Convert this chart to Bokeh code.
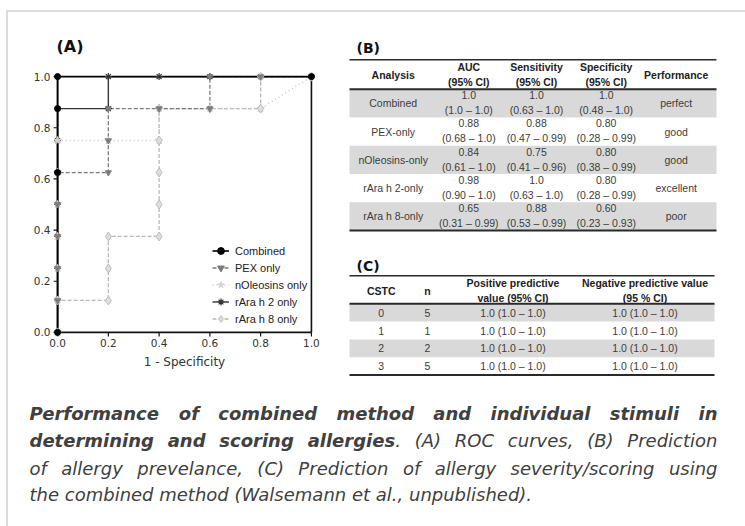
from bokeh.plotting import figure
from bokeh.models import (Range1d, FixedTicker, PrintfTickFormatter, Legend,
                          LegendItem, Spacer)
from bokeh.layouts import row, column
from bokeh.embed import file_html
from bokeh.resources import INLINE
from bokeh.core.properties import value

# ------------------------------------------------------------------ data
tick_vals = [0.0, 0.2, 0.4, 0.6, 0.8, 1.0]
series_names = ["Combined", "PEX only", "nOleosins only", "rAra h 2 only", "rAra h 8 only"]

comb_fpr = [0.0, 0.0, 0.0, 0.0, 1.0]
comb_tpr = [0.0, 0.625, 0.875, 1.0, 1.0]
pex_fpr = [0.0, 0.0, 0.0, 0.0, 0.0, 0.0, 0.2, 0.2, 0.2, 0.4, 0.6, 0.6, 0.8, 1.0]
pex_tpr = [0.0, 0.125, 0.25, 0.375, 0.5, 0.625, 0.625, 0.75, 0.875, 0.875, 0.875, 1.0, 1.0, 1.0]
nole_fpr = [0.0, 0.0, 0.0, 0.0, 0.0, 0.0, 0.0, 0.2, 0.4, 0.4, 0.6, 0.8, 1.0]
nole_tpr = [0.0, 0.125, 0.25, 0.375, 0.5, 0.625, 0.75, 0.75, 0.75, 0.875, 0.875, 0.875, 1.0]
h2_fpr = [0.0, 0.0, 0.0, 0.0, 0.0, 0.0, 0.0, 0.0, 0.2, 0.2, 0.4, 0.6, 0.8, 1.0]
h2_tpr = [0.0, 0.125, 0.25, 0.375, 0.5, 0.625, 0.75, 0.875, 0.875, 1.0, 1.0, 1.0, 1.0, 1.0]
h8_fpr = [0.0, 0.0, 0.2, 0.2, 0.2, 0.4, 0.4, 0.4, 0.4, 0.4, 0.6, 0.8, 0.8, 1.0]
h8_tpr = [0.0, 0.125, 0.125, 0.25, 0.375, 0.375, 0.5, 0.625, 0.75, 0.875, 0.875, 0.875, 1.0, 1.0]

# table (B)
b_header = ["Analysis", "AUC", "Sensitivity", "Specificity", "Performance"]
b_analysis = ["Combined", "PEX-only", "nOleosins-only", "rAra h 2-only", "rAra h 8-only"]
b_auc = ["1.0", "0.88", "0.84", "0.98", "0.65"]
b_auc_ci = ["(1.0 \u2013 1.0)", "(0.68 \u2013 1.0)", "(0.61 \u2013 1.0)", "(0.90 \u2013 1.0)", "(0.31 \u2013 0.99)"]
b_sens = ["1.0", "0.88", "0.75", "1.0", "0.88"]
b_sens_ci = ["(0.63 \u2013 1.0)", "(0.47 \u2013 0.99)", "(0.41 \u2013 0.96)", "(0.63 \u2013 1.0)", "(0.53 \u2013 0.99)"]
b_spec = ["1.0", "0.80", "0.80", "0.80", "0.60"]
b_spec_ci = ["(0.48 \u2013 1.0)", "(0.28 \u2013 0.99)", "(0.38 \u2013 0.99)", "(0.28 \u2013 0.99)", "(0.23 \u2013 0.93)"]
b_perf = ["perfect", "good", "good", "excellent", "poor"]

# table (C)
c_cstc = ["0", "1", "2", "3"]
c_n = ["5", "1", "2", "5"]
c_ppv = ["1.0 (1.0 \u2013 1.0)", "1.0 (1.0 \u2013 1.0)", "1.0 (1.0 \u2013 1.0)", "1.0 (1.0 \u2013 1.0)"]
c_npv = ["1.0 (1.0 \u2013 1.0)", "1.0 (1.0 \u2013 1.0)", "1.0 (1.0 \u2013 1.0)", "1.0 (1.0 \u2013 1.0)"]

# caption: each word is a list of (text, bold) pieces
cap_line1 = [[("Performance", True)], [("of", True)], [("combined", True)], [("method", True)],
             [("and", True)], [("individual", True)], [("stimuli", True)], [("in", True)]]
cap_line2 = [[("determining", True)], [("and", True)], [("scoring", True)],
             [("allergies", True), (".", False)], [("(A)", False)], [("ROC", False)],
             [("curves,", False)], [("(B)", False)], [("Prediction", False)]]
cap_line3 = [[("of", False)], [("allergy", False)], [("prevelance,", False)], [("(C)", False)],
             [("Prediction", False)], [("of", False)], [("allergy", False)],
             [("severity/scoring", False)], [("using", False)]]
cap_line4 = "the combined method (Walsemann et al., unpublished)."

# ------------------------------------------------------------------ helpers
FONT_T = "Liberation Sans"
GRAY_ROW = "#d9d9d9"
TXT = "#3c3c3c"

# approximate DejaVu Sans advance widths (units per 2048 em) for justification
W_REG = {' ': 651, '(': 799, ')': 799, ',': 651, '.': 651, '/': 690, '-': 739,
         'A': 1401, 'B': 1405, 'C': 1430, 'O': 1612, 'P': 1235, 'R': 1423, 'W': 2025,
         'a': 1255, 'b': 1300, 'c': 1126, 'd': 1300, 'e': 1260, 'f': 721, 'g': 1300,
         'h': 1298, 'i': 569, 'j': 569, 'k': 1186, 'l': 569, 'm': 1995, 'n': 1298,
         'o': 1253, 'p': 1300, 'q': 1300, 'r': 842, 's': 1067, 't': 803, 'u': 1298,
         'v': 1212, 'w': 1675, 'x': 1212, 'y': 1212, 'z': 1075}
W_BOLD = {' ': 713, '.': 779, 'P': 1501, 'a': 1382, 'b': 1466, 'c': 1219, 'd': 1466,
          'e': 1389, 'f': 891, 'g': 1466, 'h': 1458, 'i': 702, 'l': 702, 'm': 2134,
          'n': 1458, 'o': 1407, 'r': 1010, 's': 1219, 't': 979, 'u': 1458, 'v': 1335}


def twidth(s, bold, size):
    tab = W_BOLD if bold else W_REG
    return sum(tab.get(ch, 1250) for ch in s) / 2048.0 * size


def txt(p, xs, ys, texts, size="10.5px", bold=False, color=TXT, align="center",
        baseline="middle", font=FONT_T, style=None):
    p.text(x=xs, y=ys, text=texts, text_align=align, text_baseline=baseline,
           text_font=value(font),
           text_font_style=style if style else ("bold" if bold else "normal"),
           text_font_size=value(size), text_color=color)


# ------------------------------------------------------------------ (A) ROC
PAD = 0.02
pA = figure(width=332, height=368, x_range=Range1d(-PAD, 1 + PAD), y_range=Range1d(-PAD, 1 + PAD),
            output_backend="svg", toolbar_location=None,
            min_border_left=44, min_border_right=24, min_border_top=59, min_border_bottom=43)
pA.outline_line_color = None
pA.grid.visible = False
pA.title.text = "(A)"
pA.title.align = "left"
pA.title.offset = 4
pA.title.standoff = 32
pA.title.text_font = "DejaVu Sans"
pA.title.text_font_style = "bold"
pA.title.text_font_size = "16px"
pA.title.text_color = "#111111"

for ax in (pA.xaxis[0], pA.yaxis[0]):
    ax.ticker = FixedTicker(ticks=tick_vals)
    ax.formatter = PrintfTickFormatter(format="%.1f")
    ax.axis_line_color = None
    ax.major_tick_line_color = None
    ax.major_tick_out = 0
    ax.major_tick_in = 0
    ax.minor_tick_line_color = None
    ax.major_label_text_font = "DejaVu Sans"
    ax.major_label_text_font_size = "10.5px"
    ax.major_label_text_color = "#333333"
pA.yaxis.major_label_standoff = 2
pA.xaxis.major_label_standoff = 1
pA.xaxis.axis_label = "1 - Specificity"
pA.xaxis.axis_label_text_font = "DejaVu Sans"
pA.xaxis.axis_label_text_font_style = "normal"
pA.xaxis.axis_label_text_font_size = "12px"
pA.xaxis.axis_label_text_color = "#333333"
pA.xaxis.axis_label_standoff = 5

# axis lines, outward ticks and the right frame line, drawn on the data scale
lo, hi = tick_vals[0], tick_vals[-1]
tlx = 4.0 / 254.0
tly = 4.0 / 256.0
nt = len(tick_vals)
pA.segment(x0=[lo] * nt, y0=tick_vals, x1=[lo - tlx] * nt, y1=tick_vals,
           line_color="#111111", line_width=1.2)
pA.segment(x0=tick_vals, y0=[lo] * nt, x1=tick_vals, y1=[lo - tly] * nt,
           line_color="#111111", line_width=1.2)
pA.segment(x0=[lo, lo, hi], y0=[lo, lo, lo], x1=[lo, hi, hi], y1=[hi, lo, hi],
           line_color="#111111", line_width=1.6)

l_h8 = pA.line(h8_fpr, h8_tpr, line_color="#b8b8b8", line_width=1.3, line_dash="4 2")
l_no = pA.line(nole_fpr, nole_tpr, line_color="#c8c8c8", line_width=1.5, line_dash="1 3")
l_pex = pA.line(pex_fpr, pex_tpr, line_color="#7c7c7c", line_width=1.3, line_dash="4 2")
l_h2 = pA.line(h2_fpr, h2_tpr, line_color="#333333", line_width=1.4)
l_cb = pA.line(comb_fpr, comb_tpr, line_color="#000000", line_width=1.6)

s_h2 = pA.scatter(h2_fpr, h2_tpr, marker="asterisk", angle=1.5708, size=7,
                  line_color="#333333", line_width=1.2)
s_no = pA.scatter(nole_fpr, nole_tpr, marker="star", size=8,
                  fill_color="#d4d4d4", line_color="#d4d4d4")
s_h8 = pA.scatter(h8_fpr, h8_tpr, marker="diamond", size=9,
                  fill_color="#dedede", line_color="#bdbdbd", line_width=1)
s_pex = pA.scatter(pex_fpr, pex_tpr, marker="inverted_triangle", size=6,
                   fill_color="#7c7c7c", line_color="#7c7c7c")
s_cb = pA.scatter(comb_fpr, comb_tpr, marker="circle", size=6,
                  fill_color="#000000", line_color="#000000")

legend = Legend(items=[
    LegendItem(label=series_names[0], renderers=[l_cb, s_cb]),
    LegendItem(label=series_names[1], renderers=[l_pex, s_pex]),
    LegendItem(label=series_names[2], renderers=[l_no, s_no]),
    LegendItem(label=series_names[3], renderers=[l_h2, s_h2]),
    LegendItem(label=series_names[4], renderers=[l_h8, s_h8]),
], location=(160, 10))
legend.label_text_font = FONT_T
legend.label_text_font_size = "11px"
legend.label_text_color = "#222222"
legend.glyph_width = 17
legend.glyph_height = 17
legend.label_height = 17
legend.spacing = 0
legend.padding = 0
legend.margin = 0
legend.label_standoff = 6
legend.border_line_color = None
legend.background_fill_alpha = 0
pA.add_layout(legend)

# ------------------------------------------------------------------ (B) and (C) tables
pB = figure(width=405, height=368, x_range=Range1d(340, 745), y_range=Range1d(380, 12),
            x_axis_type=None, y_axis_type=None, output_backend="svg",
            toolbar_location=None, min_border=0)
pB.outline_line_color = None
pB.grid.visible = False

# --- table B
bL, bR = 349, 716
b_cols = [392.7, 468.3, 536.0, 605.7, 675.7]
b_top_rule, b_head_rule = 59.3, 88.7
b_row_h = 28.25
nb = len(b_analysis)
row_tops = [b_head_rule + i * b_row_h for i in range(nb)]
g_idx = [i for i in range(nb) if i % 2 == 0]
pB.quad(left=bL, right=bR, top=[row_tops[i] for i in g_idx],
        bottom=[row_tops[i] + b_row_h for i in g_idx], fill_color=GRAY_ROW, line_color=None)
b_bottom = row_tops[-1] + b_row_h
pB.quad(left=bL, right=bR, top=[b_top_rule - 0.7, b_head_rule - 1.0, b_bottom - 1.0],
        bottom=[b_top_rule + 0.7, b_head_rule + 1.0, b_bottom + 1.0],
        fill_color="#2a2a2a", line_color=None)

txt(pB, [356], [47], ["(B)"], size="14px", bold=True, color="#111111", align="left",
    font="DejaVu Sans")
txt(pB, [b_cols[0], b_cols[4]], [74.3, 74.3], [b_header[0], b_header[4]], bold=True, color="#222222")
txt(pB, b_cols[1:4], [66.7] * 3, b_header[1:4], bold=True, color="#222222")
txt(pB, b_cols[1:4], [81.0] * 3, ["(95% CI)"] * 3, bold=True, color="#222222")

mid = [t + 14.2 for t in row_tops]
l1 = [t + 6.0 for t in row_tops]
l2 = [t + 21.0 for t in row_tops]
txt(pB, [b_cols[0]] * nb, mid, b_analysis)
txt(pB, [b_cols[4]] * nb, mid, b_perf)
txt(pB, [b_cols[1]] * nb, l1, b_auc)
txt(pB, [b_cols[1]] * nb, l2, b_auc_ci)
txt(pB, [b_cols[2]] * nb, l1, b_sens)
txt(pB, [b_cols[2]] * nb, l2, b_sens_ci)
txt(pB, [b_cols[3]] * nb, l1, b_spec)
txt(pB, [b_cols[3]] * nb, l2, b_spec_ci)

# --- table C
cL, cR = 349, 714
c_cols = [380.7, 427.0, 512.5, 644.5]
c_top_rule, c_head_rule = 275.3, 303.3
c_row_h = 17.8
nc = len(c_cstc)
c_tops = [c_head_rule + i * c_row_h for i in range(nc)]
cg = [i for i in range(nc) if i % 2 == 0]
pB.quad(left=cL, right=cR, top=[c_tops[i] for i in cg],
        bottom=[c_tops[i] + c_row_h for i in cg], fill_color=GRAY_ROW, line_color=None)
c_bottom = c_tops[-1] + c_row_h
pB.quad(left=cL, right=cR, top=[c_top_rule - 0.7, c_head_rule - 1.0, c_bottom - 1.0],
        bottom=[c_top_rule + 0.7, c_head_rule + 1.0, c_bottom + 1.0],
        fill_color="#2a2a2a", line_color=None)

txt(pB, [356], [265], ["(C)"], size="14px", bold=True, color="#111111", align="left",
    font="DejaVu Sans")
txt(pB, c_cols[0:2], [290.5, 290.5], ["CSTC", "n"], bold=True, color="#222222")
txt(pB, c_cols[2:4], [282.7, 282.7], ["Positive predictive", "Negative predictive value"],
    bold=True, color="#222222")
txt(pB, c_cols[2:4], [297.3, 297.3], ["value (95% CI)", "(95 % CI)"], bold=True, color="#222222")
cm = [t + c_row_h / 2 for t in c_tops]
txt(pB, [c_cols[0]] * nc, cm, c_cstc)
txt(pB, [c_cols[1]] * nc, cm, c_n)
txt(pB, [c_cols[2]] * nc, cm, c_ppv)
txt(pB, [c_cols[3]] * nc, cm, c_npv)

# ------------------------------------------------------------------ caption
pC = figure(width=737, height=146, x_range=Range1d(8, 745), y_range=Range1d(526, 380),
            x_axis_type=None, y_axis_type=None, output_backend="svg",
            toolbar_location=None, min_border=0)
pC.outline_line_color = None
pC.grid.visible = False

CAP_COL = "#404040"
CAP_PX = 18.0
CAP_SIZE = "18px"
cap_left, cap_right = 29.0, 717.0
for words, yb in ((cap_line1, 412.5), (cap_line2, 440.0), (cap_line3, 467.5)):
    widths = [sum(twidth(t, b, CAP_PX) for t, b in w) for w in words]
    gap = (cap_right - cap_left - sum(widths)) / (len(words) - 1)
    x = cap_left
    for w, wd in zip(words, widths):
        xx = x
        for t, b in w:
            txt(pC, [xx], [yb], [t], size=CAP_SIZE, color=CAP_COL, align="left",
                baseline="alphabetic", font="DejaVu Sans",
                style="bold italic" if b else "italic")
            xx += twidth(t, b, CAP_PX)
        x += wd + gap
txt(pC, [cap_left], [494.0], [cap_line4], size=CAP_SIZE, color=CAP_COL, align="left",
    baseline="alphabetic", font="DejaVu Sans", style="italic")

# ------------------------------------------------------------------ layout
GRAY_LINE = "#dcdcdc"
content = column(row(pA, column(pB)), pC)
root = column(
    Spacer(width=745, height=10),
    row(Spacer(width=6, height=516),
        Spacer(width=2, height=516, styles={"background-color": GRAY_LINE}),
        column(Spacer(width=737, height=2, styles={"background-color": GRAY_LINE}), content)))

open("out.html", "w").write(file_html(root, INLINE))
